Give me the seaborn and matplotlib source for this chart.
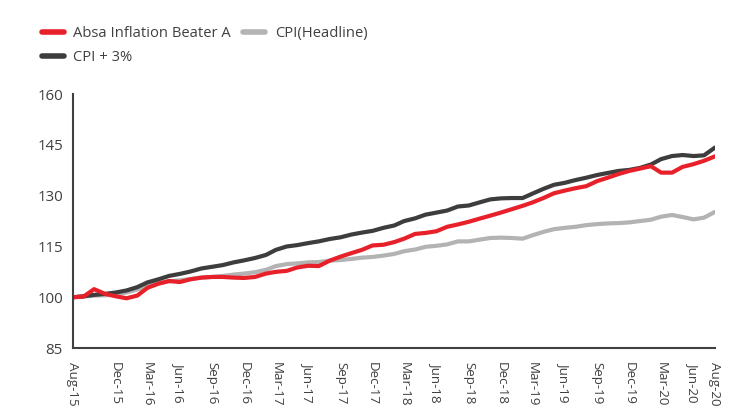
import pandas as pd
import numpy as np
import matplotlib
matplotlib.use("Agg")
import matplotlib.pyplot as plt
import seaborn as sns

# monthly index values, Aug-15 .. Aug-20 (start = 100)
months = pd.date_range("2015-08-01", periods=61, freq="MS")

absa = [100.0, 100.2, 102.4, 101.0, 100.3, 99.7, 100.5, 102.8, 104.0, 104.8,
        104.5, 105.3, 105.8, 106.0, 106.0, 105.8, 105.7, 106.0, 107.0, 107.5,
        107.8, 108.8, 109.3, 109.2, 110.8, 112.0, 113.0, 114.0, 115.3, 115.5,
        116.3, 117.3, 118.7, 119.0, 119.5, 120.8, 121.5, 122.3, 123.2, 124.1,
        125.0, 126.0, 127.0, 128.0, 129.3, 130.7, 131.5, 132.2, 132.8, 134.3,
        135.3, 136.4, 137.3, 138.0, 138.7, 136.8, 136.8, 138.5, 139.3, 140.3,
        141.6]

cpi_plus3 = [100.0, 100.3, 100.7, 101.0, 101.4, 102.0, 103.0, 104.4, 105.3, 106.3,
             106.9, 107.6, 108.5, 109.0, 109.5, 110.3, 110.9, 111.6, 112.5, 114.0,
             115.0, 115.4, 116.0, 116.5, 117.2, 117.7, 118.5, 119.1, 119.6, 120.5,
             121.2, 122.5, 123.3, 124.4, 125.0, 125.6, 126.8, 127.1, 128.0, 128.9,
             129.2, 129.3, 129.3, 130.6, 132.0, 133.2, 133.8, 134.6, 135.3, 136.1,
             136.7, 137.3, 137.6, 138.2, 139.2, 140.8, 141.7, 142.0, 141.7, 141.9,
             144.2]

cpi = [100.0, 100.2, 100.5, 100.6, 100.8, 101.4, 102.3, 103.4, 104.2, 104.7,
       105.0, 105.4, 105.8, 106.0, 106.3, 106.7, 107.0, 107.4, 108.1, 109.2,
       109.8, 110.0, 110.3, 110.4, 110.8, 111.0, 111.3, 111.7, 111.9, 112.3,
       112.8, 113.6, 114.1, 114.9, 115.2, 115.6, 116.5, 116.5, 117.0, 117.5,
       117.6, 117.5, 117.3, 118.3, 119.3, 120.1, 120.5, 120.8, 121.3, 121.6,
       121.8, 121.9, 122.1, 122.5, 122.9, 123.8, 124.3, 123.7, 123.0, 123.5,
       125.2]

tick_labels = ["Aug-15", "Dec-15", "Mar-16", "Jun-16", "Sep-16", "Dec-16",
               "Mar-17", "Jun-17", "Sep-17", "Dec-17", "Mar-18", "Jun-18",
               "Sep-18", "Dec-18", "Mar-19", "Jun-19", "Sep-19", "Dec-19",
               "Mar-20", "Jun-20", "Aug-20"]

names = ["Absa Inflation Beater A", "CPI + 3%", "CPI(Headline)"]
colors = {"Absa Inflation Beater A": "#E8202A",
          "CPI + 3%": "#3D3D3D",
          "CPI(Headline)": "#B3B3B3"}

df = pd.DataFrame({"date": np.tile(months, 3),
                   "series": np.repeat(names, len(months)),
                   "value": absa + cpi_plus3 + cpi})

sns.set_style("white")
plt.rcParams["font.family"] = ["Open Sans", "DejaVu Sans"]
text_col = "#404040"

fig = plt.figure(figsize=(7.34, 4.09), dpi=100)
ax = fig.add_axes([0.099, 0.149, 0.875, 0.621])

# grey first, then dark, then red on top
order = ["CPI(Headline)", "CPI + 3%", "Absa Inflation Beater A"]
sns.lineplot(data=df, x="date", y="value", hue="series", hue_order=order,
             palette=colors, linewidth=3, ax=ax, legend=False)

ax.set_xlim(months[0], months[-1])
ax.set_ylim(85, 160)
ax.set_yticks([85, 100, 115, 130, 145, 160])
tick_dates = pd.to_datetime(tick_labels, format="%b-%y")
ax.set_xticks(tick_dates)
ax.set_xticklabels(tick_labels, rotation=-90, va="top", ha="center")
ax.set_xlabel("")
ax.set_ylabel("")

for s in ["top", "right"]:
    ax.spines[s].set_visible(False)
for s in ["left", "bottom"]:
    ax.spines[s].set_color(text_col)
    ax.spines[s].set_linewidth(1.5)
ax.tick_params(axis="both", colors=text_col, length=5, width=1.3,
               direction="out")
ax.tick_params(axis="y", labelsize=10.8, pad=2)
ax.tick_params(axis="x", labelsize=9.6, pad=5)

handles = [plt.Line2D([], [], color=colors[n], linewidth=4) for n in names]
fig.legend(handles, names, ncol=2, loc="upper left",
           bbox_to_anchor=(0.0385, 0.968), frameon=False, fontsize=10.6,
           handlelength=1.5, handletextpad=0.67, columnspacing=0.8,
           labelspacing=0.6, labelcolor=text_col)

fig.savefig("out.png", dpi=100)
